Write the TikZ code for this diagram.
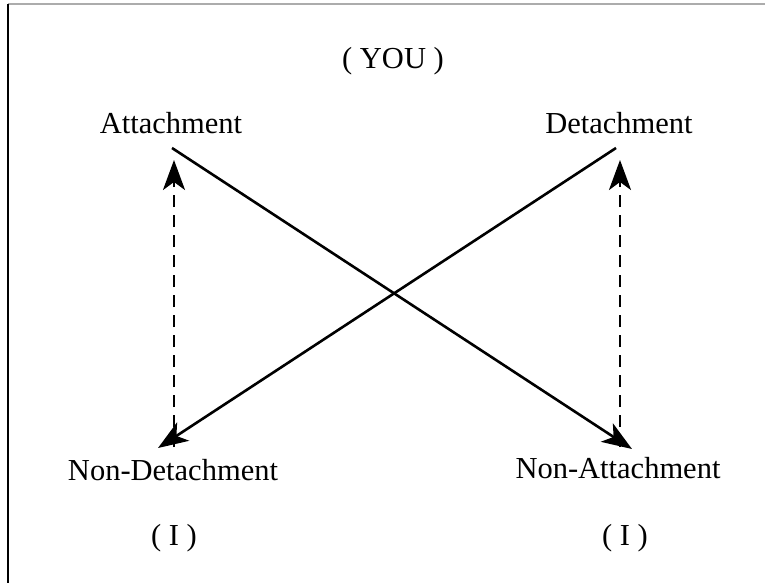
\documentclass[tikz,border=0pt]{standalone}
\usepackage{fontspec}
\setmainfont{Liberation Serif}
\usetikzlibrary{arrows.meta}
\begin{document}
\begin{tikzpicture}[x=1pt,y=-1pt,
  lbl/.style={anchor=base, inner sep=0pt, font=\fontsize{30.5}{36}\selectfont},
  conn/.style={line width=2.6pt, -{Stealth[length=30pt,width=22pt,inset=8pt]}},
  dconn/.style={conn, dash pattern=on 12pt off 8pt}]
\useasboundingbox (0,0) rectangle (765,583);
\draw[gray!65, line width=1.5pt] (8,4) -- (765,4);
\draw[line width=2.2pt] (8,4) -- (8,583);
\node[lbl] (you) at (393,69) {( YOU )};
\node[lbl] (att) at (171,133) {Attachment};
\node[lbl] (det) at (619,133) {Detachment};
\node[lbl] (nondet) at (173,480) {Non-Detachment};
\node[lbl] (nonatt) at (618,478) {Non-Attachment};
\node[lbl] (i1) at (174,545) {( I )};
\node[lbl] (i2) at (625,545) {( I )};
\coordinate (a1) at (172,148);
\coordinate (a2) at (632,449);
\coordinate (d1) at (616,148);
\coordinate (d2) at (158,448);
\coordinate (l1) at (174,447);
\coordinate (l2) at (174,160);
\coordinate (r1) at (620,447);
\coordinate (r2) at (620,160);
\draw[conn] (a1) -- (a2);
\draw[conn] (d1) -- (d2);
\draw[dconn] (l1) -- (l2);
\draw[dconn] (r1) -- (r2);
\end{tikzpicture}
\end{document}
